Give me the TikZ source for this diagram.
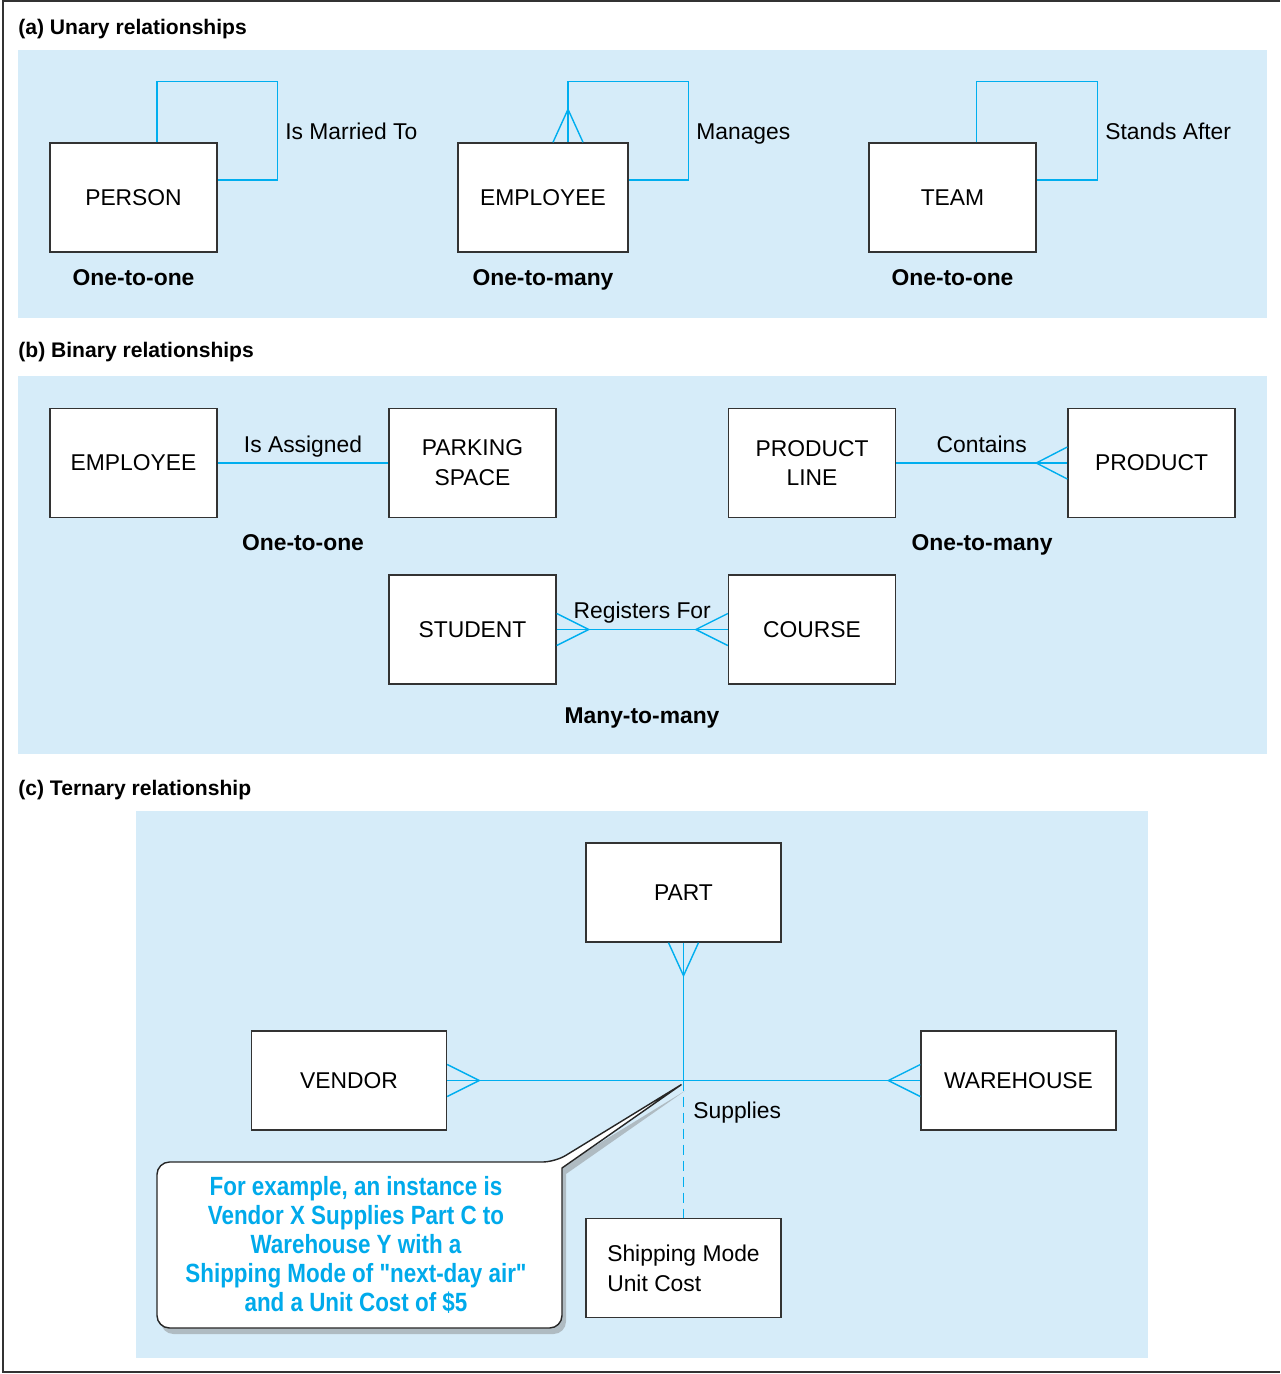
\documentclass[tikz,border=0pt]{standalone}
\usepackage{fontspec}
\setmainfont{Liberation Sans}
\newfontfamily\notefont[FakeStretch=0.85]{Liberation Sans}
\usetikzlibrary{positioning,shadows}
\definecolor{relblue}{RGB}{0,174,239}
\definecolor{panelblue}{RGB}{214,236,249}
\definecolor{noteblue}{RGB}{0,170,235}

\begin{document}
\begin{tikzpicture}[
    entity/.style={draw=black!80, line width=0.8pt, fill=white, minimum width=3.34cm, minimum height=2.18cm, inner sep=2pt, align=center, font=\fontsize{13}{17}\selectfont},
    rel/.style={draw=relblue, line width=0.8pt},
    panel/.style={fill=panelblue},
    heading/.style={anchor=west, inner sep=0pt, font=\fontsize{12}{14}\selectfont\bfseries},
    degree/.style={anchor=base, inner sep=0pt, font=\fontsize{13}{15}\selectfont\bfseries},
    reltext/.style={font=\fontsize{13}{15}\selectfont, text height=0.75em, text depth=0.25em},
    notebox/.style={draw=black!85, line width=0.8pt, fill=white, drop shadow={opacity=0.45, shadow xshift=0.08cm, shadow yshift=-0.12cm}}
]
    \useasboundingbox (0,0) rectangle (25.6,-27.48);
    % outer frame and background panels
    \draw[line width=0.6pt, black!80] (25.6,-0.02) -- (0.06,-0.02) -- (0.06,-27.44) -- (25.6,-27.44);
    \fill[panel] (0.36,-1.0) rectangle (25.34,-6.36);
    \fill[panel] (0.36,-7.52) rectangle (25.34,-15.08);
    \fill[panel] (2.72,-16.22) rectangle (22.96,-27.16);

    \node (head_a) at (0.36,-0.58) [heading] {(a) Unary relationships};
    \node (head_b) at (0.36,-7.04) [heading] {(b) Binary relationships};
    \node (head_c) at (0.36,-15.8) [heading] {(c) Ternary relationship};

    % (a) unary
    \node (person) at (2.67,-3.95) [entity] {PERSON};
    \node (employee_a) at (10.86,-3.95) [entity, minimum width=3.4cm] {EMPLOYEE};
    \node (team) at (19.05,-3.95) [entity] {TEAM};

    \draw[rel] ([xshift=0.47cm]person.north) -- ++(0,1.22cm) -| ([xshift=1.2cm,yshift=0.35cm]person.east) -- ([yshift=0.35cm]person.east);
    \draw[rel] ([xshift=0.5cm]employee_a.north) -- ++(0,1.22cm) -| ([xshift=1.2cm,yshift=0.35cm]employee_a.east) -- ([yshift=0.35cm]employee_a.east);
    \draw[rel] ([xshift=0.2cm]employee_a.north) -- ([xshift=0.5cm,yshift=0.66cm]employee_a.north) -- ([xshift=0.8cm]employee_a.north);
    \draw[rel] ([xshift=0.48cm]team.north) -- ++(0,1.22cm) -| ([xshift=1.22cm,yshift=0.35cm]team.east) -- ([yshift=0.35cm]team.east);

    \node (married) at (5.70,-2.70) [reltext, anchor=west, inner sep=0pt] {Is Married To};
    \node (manages) at (13.92,-2.70) [reltext, anchor=west, inner sep=0pt] {Manages};
    \node (stands) at (22.10,-2.70) [reltext, anchor=west, inner sep=0pt] {Stands After};

    \node (deg_a1) at (2.67,-5.70) [degree] {One-to-one};
    \node (deg_a2) at (10.86,-5.70) [degree] {One-to-many};
    \node (deg_a3) at (19.05,-5.70) [degree] {One-to-one};

    % (b) binary
    \node (employee_b) at (2.67,-9.26) [entity] {EMPLOYEE};
    \node (parking) at (9.45,-9.26) [entity] {PARKING\\SPACE};
    \node (prodline) at (16.24,-9.26) [entity] {PRODUCT\\LINE};
    \node (product) at (23.03,-9.26) [entity] {PRODUCT};
    \node (student) at (9.45,-12.59) [entity] {STUDENT};
    \node (course) at (16.24,-12.59) [entity] {COURSE};

    \draw[rel] (employee_b) -- (parking) node [midway, above, reltext, black] {Is Assigned};
    \draw[rel] (prodline) -- (product) node [midway, above, reltext, black] {Contains};
    \draw[rel] ([yshift=0.32cm]product.west) -- ([xshift=-0.62cm]product.west) -- ([yshift=-0.32cm]product.west);
    \draw[rel] (student) -- (course) node [midway, above, reltext, black] {Registers For};
    \draw[rel] ([yshift=0.32cm]student.east) -- ([xshift=0.64cm]student.east) -- ([yshift=-0.32cm]student.east);
    \draw[rel] ([yshift=0.32cm]course.west) -- ([xshift=-0.64cm]course.west) -- ([yshift=-0.32cm]course.west);

    \node (deg_b1) at (6.06,-11.0) [degree] {One-to-one};
    \node (deg_b2) at (19.64,-11.0) [degree] {One-to-many};
    \node (deg_b3) at (12.84,-14.46) [degree] {Many-to-many};

    % (c) ternary
    \node (part) at (13.67,-17.85) [entity, minimum width=3.9cm, minimum height=1.98cm] {PART};
    \node (vendor) at (6.98,-21.61) [entity, minimum width=3.9cm, minimum height=1.98cm] {VENDOR};
    \node (warehouse) at (20.37,-21.61) [entity, minimum width=3.9cm, minimum height=1.98cm] {WAREHOUSE};
    \node (shipping) at (13.67,-25.36) [entity, minimum width=3.9cm, minimum height=1.98cm, align=left] {Shipping Mode\\Unit Cost};
    \coordinate (hub) at (part.south |- vendor.east);

    \draw[rel] (vendor) -- (warehouse);
    \draw[rel] (part) -- (hub);
    \draw[rel, dashed, dash pattern=on 0.2cm off 0.12cm] (hub) -- (shipping);
    \draw[rel] ([xshift=-0.3cm]part.south) -- ([yshift=-0.66cm]part.south) -- ([xshift=0.3cm]part.south);
    \draw[rel] ([yshift=0.32cm]vendor.east) -- ([xshift=0.64cm]vendor.east) -- ([yshift=-0.32cm]vendor.east);
    \draw[rel] ([yshift=0.32cm]warehouse.west) -- ([xshift=-0.64cm]warehouse.west) -- ([yshift=-0.32cm]warehouse.west);
    \node (supplies) at (13.86,-22.28) [reltext, anchor=west, inner sep=0pt] {Supplies};

    % callout
    \draw[notebox] (3.14,-24.9) [rounded corners=0.25cm] -- (3.14,-23.24) -- (11.10,-23.24) [sharp corners] -- ([xshift=-0.04cm,yshift=-0.08cm]hub) -- (11.24,-23.36) -- (11.24,-23.8) [rounded corners=0.25cm] -- (11.24,-26.56) -- (3.14,-26.56) -- cycle;
    \node (note) at (7.12,-24.9) [align=center, text=noteblue, font=\fontsize{15}{16.6}\notefont\bfseries] {For example, an instance is\\Vendor X Supplies Part C to\\Warehouse Y with a\\Shipping Mode of "next-day air"\\and a Unit Cost of \$5};
\end{tikzpicture}
\end{document}
